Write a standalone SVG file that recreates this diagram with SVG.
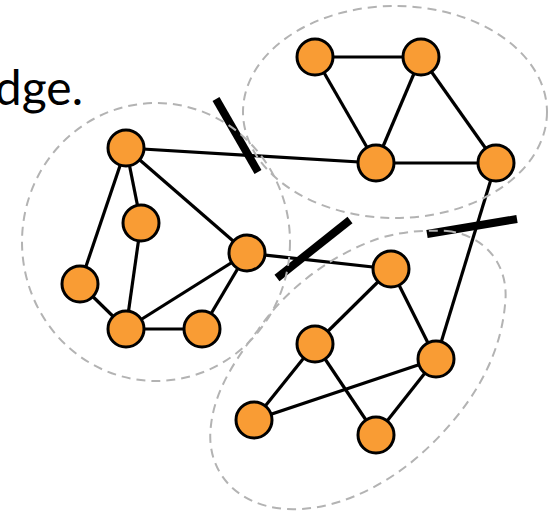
<svg xmlns="http://www.w3.org/2000/svg" width="556" height="514" viewBox="0 0 556 514">
<style>
.n{fill:#f99c34;stroke:#000;stroke-width:3}
.e{stroke:#000;stroke-width:3.2;fill:none}
.cut{stroke:#000;stroke-width:8;stroke-linecap:butt}
.grp{fill:none;stroke:#b3b3b3;stroke-width:2;stroke-dasharray:9 6}
.t{font-family:Lato,"Open Sans","Liberation Sans",sans-serif;font-size:48px;fill:#000}
</style>
<rect width="556" height="514" fill="#fff"/>
<text class="t" x="83" y="105" text-anchor="end">dge.</text>
<g id="connectors">
<line class="e" x1="126" y1="148" x2="376" y2="163"/>
<line class="e" x1="126" y1="148" x2="80" y2="284"/>
<line class="e" x1="126" y1="148" x2="141" y2="223"/>
<line class="e" x1="126" y1="148" x2="247" y2="253"/>
<line class="e" x1="141" y1="223" x2="126" y2="329"/>
<line class="e" x1="80" y1="284" x2="126" y2="329"/>
<line class="e" x1="126" y1="329" x2="247" y2="253"/>
<line class="e" x1="126" y1="329" x2="202" y2="329"/>
<line class="e" x1="202" y1="329" x2="247" y2="253"/>
<line class="e" x1="247" y1="253" x2="391" y2="269"/>
<line class="e" x1="315" y1="57" x2="421" y2="57"/>
<line class="e" x1="315" y1="57" x2="376" y2="163"/>
<line class="e" x1="421" y1="57" x2="376" y2="163"/>
<line class="e" x1="421" y1="57" x2="496" y2="163"/>
<line class="e" x1="376" y1="163" x2="496" y2="163"/>
<line class="e" x1="496" y1="163" x2="436" y2="359"/>
<line class="e" x1="391" y1="269" x2="315" y2="344"/>
<line class="e" x1="391" y1="269" x2="436" y2="359"/>
<line class="e" x1="315" y1="344" x2="254" y2="420"/>
<line class="e" x1="315" y1="344" x2="376" y2="435"/>
<line class="e" x1="254" y1="420" x2="436" y2="359"/>
<line class="e" x1="436" y1="359" x2="376" y2="435"/>
<line class="cut" x1="216" y1="99" x2="258" y2="172"/>
<line class="cut" x1="277" y1="278" x2="350" y2="220"/>
<line class="cut" x1="427" y1="234" x2="517" y2="219"/>
</g>
<g id="groups">
<ellipse class="grp" cx="156" cy="242" rx="134" ry="139"/>
<ellipse class="grp" cx="395" cy="112" rx="152" ry="106"/>
<path class="grp" d="M447 231 C485 235 510 265 505 305 C500 360 470 410 420 455 C380 490 330 512 285 509 C235 505 205 470 211 425 C215 390 235 360 258 330 C285 290 330 255 380 238 C405 231 425 230 447 231 Z"/>
</g>
<g id="nA"><circle class="n" cx="126" cy="148" r="18"/></g>
<g id="nC1"><circle class="n" cx="141" cy="223" r="18"/></g>
<g id="nC2"><circle class="n" cx="80" cy="284" r="18"/></g>
<g id="nC3"><circle class="n" cx="126" cy="329" r="18"/></g>
<g id="nC4"><circle class="n" cx="202" cy="329" r="18"/></g>
<g id="nC5"><circle class="n" cx="247" cy="253" r="18"/></g>
<g id="nB1"><circle class="n" cx="315" cy="57" r="18"/></g>
<g id="nB2"><circle class="n" cx="421" cy="57" r="18"/></g>
<g id="nB3"><circle class="n" cx="376" cy="163" r="18"/></g>
<g id="nB4"><circle class="n" cx="496" cy="163" r="18"/></g>
<g id="nD1"><circle class="n" cx="391" cy="269" r="18"/></g>
<g id="nD2"><circle class="n" cx="315" cy="344" r="18"/></g>
<g id="nD3"><circle class="n" cx="436" cy="359" r="18"/></g>
<g id="nD4"><circle class="n" cx="254" cy="420" r="18"/></g>
<g id="nD5"><circle class="n" cx="376" cy="435" r="18"/></g>
</svg>
